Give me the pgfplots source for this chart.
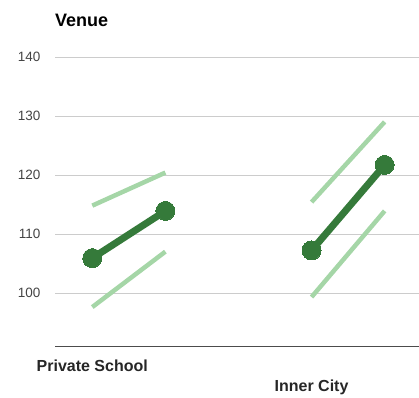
\documentclass[border=0pt]{standalone}
\usepackage{pgfplots}
\pgfplotsset{compat=1.18}
\usepackage{fontspec}
\setmainfont{Liberation Sans}
\definecolor{darkg}{HTML}{357A3A}
\definecolor{lightg}{HTML}{A5D6A7}
\definecolor{gridc}{HTML}{CCCCCC}
\definecolor{tickc}{HTML}{444444}
\begin{document}
\begin{tikzpicture}[x=1pt,y=1pt]
\useasboundingbox (0,0) rectangle (419,397);
\node[anchor=base west,inner sep=0pt,font=\bfseries\fontsize{18}{18}\selectfont] at (55,370) {Venue};
\begin{axis}[
  at={(55pt,51pt)}, anchor=south west,
  scale only axis, width=364pt, height=289pt,
  xmin=-0.51, xmax=4.47, ymin=91, ymax=140,
  axis line style={draw=none},
  ytick={100,110,120,130,140},
  ymajorgrids, grid style={gridc, line width=0.8pt},
  major tick length=0pt,
  /pgf/number format/assume math mode=true,
  yticklabel style={font=\fontsize{13.5}{13.5}\selectfont, text=tickc, xshift=-11pt},
  xtick={0}, xticklabels={Private School},
  extra x ticks={3}, extra x tick labels={Inner City},
  extra x tick style={grid=none, tick label style={yshift=-20pt}},
  xticklabel style={font=\bfseries\fontsize{16}{16}\selectfont, text=black!85, yshift=-10pt},
  clip=false,
]
% baseline axis
\draw[black!70, line width=1pt] (rel axis cs:0,0) -- (rel axis cs:1,0);
% confidence bounds
\addplot[lightg, line width=4.5pt] coordinates {(0,114.8) (1,120.4)};
\addplot[lightg, line width=4.5pt] coordinates {(0,97.6) (1,107.0)};
\addplot[lightg, line width=4.5pt] coordinates {(3,115.4) (4,129.0)};
\addplot[lightg, line width=4.5pt] coordinates {(3,99.3) (4,113.9)};
% means
\addplot[darkg, line width=7pt, mark=*, mark size=9.5pt, mark options={line width=0pt}] coordinates {(0,105.9) (1,113.9)};
\addplot[darkg, line width=7pt, mark=*, mark size=9.5pt, mark options={line width=0pt}] coordinates {(3,107.2) (4,121.7)};
\end{axis}
\end{tikzpicture}
\end{document}
